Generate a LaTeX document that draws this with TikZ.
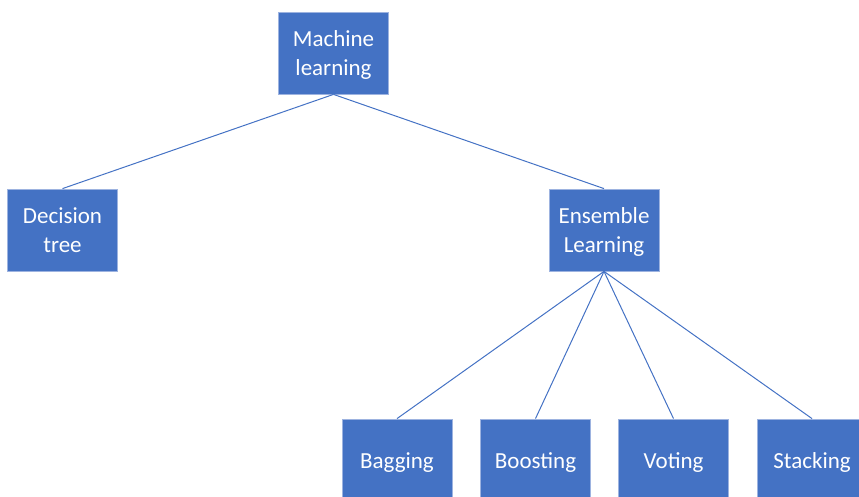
\documentclass[tikz,border=0pt]{standalone}
\usepackage{fontspec}
\setmainfont{Carlito}
\definecolor{boxblue}{HTML}{4472C4}
\definecolor{edgeblue}{HTML}{9DB3E0}
% centred label, lowered a little inside its box without changing its size
\newcommand{\boxtext}[1]{\raisebox{-2.5pt}[\height][\depth]{\begin{tabular}{@{}c@{}}#1\end{tabular}}}
\begin{document}
\begin{tikzpicture}[x=1pt,y=-1pt,
  box/.style={rectangle, fill=boxblue, draw=edgeblue, line width=0.8pt,
    minimum width=110pt, minimum height=82pt, inner sep=0pt,
    text=white, font=\fontsize{23}{29}\selectfont},
  link/.style={draw=boxblue, line width=1pt}]
  \useasboundingbox (0,0) rectangle (859,497);
  \clip (0,0) rectangle (859,497);
  % tree nodes
  \node[box] (ml)  at (333.5,53) {\boxtext{Machine\\learning}};
  \node[box] (dt)  at (62.5,230) {\boxtext{Decision\\tree}};
  \node[box] (ens) at (604,230) {\boxtext{Ensemble\\Learning}};
  \node[box] (bag) at (397,460) {\boxtext{Bagging}};
  \node[box] (boo) at (535.5,460) {\boxtext{Boosting}};
  \node[box] (vot) at (673.5,460) {\boxtext{Voting}};
  \node[box] (sta) at (812,460) {\boxtext{Stacking}};
  % connectors
  \draw[link] (ml.south) -- (dt.north);
  \draw[link] (ml.south) -- (ens.north);
  \draw[link] (ens.south) -- (bag.north);
  \draw[link] (ens.south) -- (boo.north);
  \draw[link] (ens.south) -- (vot.north);
  \draw[link] (ens.south) -- (sta.north);
\end{tikzpicture}
\end{document}
